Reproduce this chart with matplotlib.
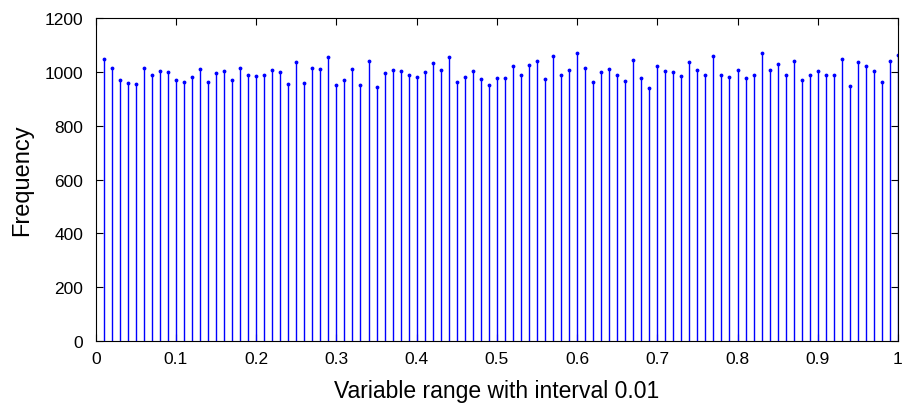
import numpy as np
import matplotlib.pyplot as plt

plt.rcParams['font.family'] = ['Liberation Sans', 'DejaVu Sans']

# bin positions 0.01 .. 1.00
bins = np.arange(1, 101) / 100.0

freq = [1048, 1014, 970, 959, 956, 1015, 988, 1005, 1000, 972,
        965, 984, 1011, 964, 998, 1004, 972, 1014, 990, 985,
        988, 1007, 1000, 957, 1038, 960, 1016, 1011, 1057, 954,
        970, 1011, 952, 1041, 946, 998, 1007, 1005, 990, 983,
        999, 1036, 1007, 1057, 965, 983, 1005, 975, 951, 978,
        979, 1023, 990, 1028, 1043, 973, 1060, 991, 1010, 1072,
        1015, 965, 1001, 1011, 990, 968, 1044, 977, 941, 1022,
        1004, 1001, 986, 1038, 1009, 990, 1059, 989, 981, 1009,
        979, 988, 1073, 1009, 1030, 988, 1042, 970, 988, 1005,
        988, 991, 1049, 949, 1038, 1022, 1004, 965, 1040, 1064]

xticks = np.arange(0, 1.01, 0.1)
xticklabels = ['0', '0.1', '0.2', '0.3', '0.4', '0.5', '0.6', '0.7', '0.8', '0.9', '1']
yticks = np.arange(0, 1201, 200)

fig = plt.figure(figsize=(9.12, 4.06), dpi=100)
ax = fig.add_axes([0.105, 0.158, 0.8796, 0.794])

markerline, stemlines, baseline = ax.stem(bins, freq, basefmt=' ')
plt.setp(stemlines, color='#0000ff', linewidth=1.0)
plt.setp(markerline, color='#0000ff', marker='.', markersize=3.5)

ax.set_xlim(0, 1)
ax.set_ylim(0, 1200)
ax.set_xticks(xticks)
ax.set_xticklabels(xticklabels)
ax.set_yticks(yticks)
ax.tick_params(direction='in', top=True, right=True, labelsize=12.5, length=5)
ax.tick_params(axis='y', pad=9)
ax.tick_params(axis='x', pad=7)
for s in ax.spines.values():
    s.set_linewidth(0.8)

ax.set_xlabel('Variable range with interval 0.01', fontsize=16.5, labelpad=10)
ax.set_ylabel('Frequency', fontsize=17, labelpad=8)

plt.savefig('out.png', dpi=100)
